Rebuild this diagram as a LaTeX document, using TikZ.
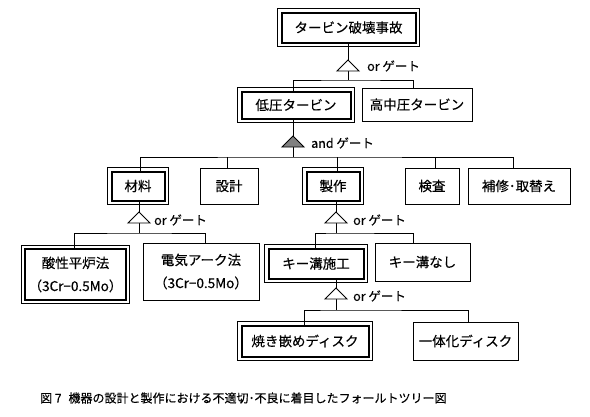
\documentclass[tikz,border=0pt]{standalone}
\usepackage{fontspec}
\setmainfont{Noto Sans CJK JP}[FakeBold=0.3]
\tikzset{
  plainbox/.style={draw, line width=0.9pt, inner sep=0pt, outer sep=0pt, align=center,
    font=\fontsize{13.5}{23}\selectfont},
  dblbox/.style={plainbox, line width=2pt},
  outframe/.style={line width=0.9pt},
  wire/.style={line width=0.9pt},
  orgate/.style={line width=0.9pt, fill=white},
  andgate/.style={line width=0.9pt, fill=black!50},
  glabel/.style={anchor=west, inner sep=0pt, font=\fontsize{12.5}{14}\selectfont},
  caption/.style={anchor=west, inner sep=0pt, font=\fontsize{12}{14}\selectfont}
}
\newcommand\dframe[1]{\draw[outframe] ([shift={(-3.6pt,3.6pt)}]#1.north west) rectangle ([shift={(3.6pt,-3.6pt)}]#1.south east);}
\newcommand\gatetri[2]{\draw[#2] (#1) -- ++(-11,11) -- ++(22,0) -- cycle;}
\begin{document}
\begin{tikzpicture}[x=1pt,y=-1pt]
\useasboundingbox (0,0) rectangle (590,416);

% nodes
\node[dblbox, minimum width=134, minimum height=30] (T) at (348.5,27.5) {タービン破壊事故};
\node[dblbox, minimum width=109, minimum height=27] (L) at (296,105) {低圧タービン};
\node[plainbox, minimum width=110, minimum height=33] (H) at (417,104.5) {高中圧タービン};
\node[dblbox, minimum width=53, minimum height=29] (M) at (138,186) {材料};
\node[plainbox, minimum width=58, minimum height=36] (D) at (229,186) {設計};
\node[dblbox, minimum width=53, minimum height=29] (S) at (333,186) {製作};
\node[plainbox, minimum width=54, minimum height=36] (C) at (432,186) {検査};
\node[plainbox, minimum width=102, minimum height=36] (R) at (519,186) {補修･取替え};
\node[dblbox, minimum width=101, minimum height=51] (A) at (75.5,274.5) {酸性平炉法\\（3Cr−0.5Mo）};
\node[plainbox, minimum width=116, minimum height=57] (E) at (201,271.5) {電気アーク法\\（3Cr−0.5Mo）};
\node[dblbox, minimum width=95, minimum height=30] (K) at (316,263.5) {キー溝施工};
\node[plainbox, minimum width=95, minimum height=38] (N) at (422.5,262) {キー溝なし};
\node[dblbox, minimum width=127, minimum height=31] (Y) at (305,341) {焼き嵌めディスク};
\node[plainbox, minimum width=105, minimum height=38] (I) at (465.5,341) {一体化ディスク};

\dframe{T}\dframe{L}\dframe{M}\dframe{S}\dframe{A}\dframe{K}\dframe{Y}

% gates: apex, base, bar
\coordinate (g1) at (348,60);  \coordinate (g1b) at (348,71);  \coordinate (b1) at (348,80);
\coordinate (g2) at (293,136); \coordinate (g2b) at (293,147); \coordinate (b2) at (293,157);
\coordinate (g3) at (139,212); \coordinate (g3b) at (139,223); \coordinate (b3) at (139,233);
\coordinate (g4) at (336,212); \coordinate (g4b) at (336,223); \coordinate (b4) at (336,233);
\coordinate (g5) at (336,288); \coordinate (g5b) at (336,299); \coordinate (b5) at (336,310);

% gate 1
\draw[wire] (T.south -| g1) -- (g1);
\draw[wire] (g1b) -- (b1);
\draw[wire] ([xshift=-3]L.north) |- (b1) -| ([xshift=-4]H.north);
\gatetri{g1}{orgate}
\node[glabel] (l1) at (367,66) {or ゲート};

% gate 2
\draw[wire] (L.south -| g2) -- (g2);
\draw[wire] (g2b) -- (b2);
\draw[wire] ([xshift=2]M.north) |- (b2) -| ([xshift=-6]R.north);
\draw[wire] ([xshift=-2]D.north) -- ([xshift=-2]D.north |- b2);
\draw[wire] ([xshift=4]S.north) -- ([xshift=4]S.north |- b2);
\draw[wire] ([xshift=3]C.north) -- ([xshift=3]C.north |- b2);
\gatetri{g2}{andgate}
\node[glabel] (l2) at (311,143) {and ゲート};

% gate 3
\draw[wire] (M.south -| g3) -- (g3);
\draw[wire] (g3b) -- (b3);
\draw[wire] ([xshift=-1.5]A.north) |- (b3) -| ([xshift=4]E.north);
\gatetri{g3}{orgate}
\node[glabel] (l3) at (154,220) {or ゲート};

% gate 4
\draw[wire] (S.south -| g4) -- (g4);
\draw[wire] (g4b) -- (b4);
\draw[wire] ([xshift=-1]K.north) |- (b4) -| ([xshift=-9.5]N.north);
\gatetri{g4}{orgate}
\node[glabel] (l4) at (353,220) {or ゲート};

% gate 5
\draw[wire] (K.south -| g5) -- (g5);
\draw[wire] (g5b) -- (b5);
\draw[wire] ([xshift=-1]Y.north) |- (b5) -| ([xshift=2.5]I.north);
\gatetri{g5}{orgate}
\node[glabel] (l5) at (353,296) {or ゲート};

% caption
\node[caption] (cap) at (40,398) {図 7\hspace{7pt}機器の設計と製作における不適切･不良に着目したフォールトツリー図};
\end{tikzpicture}
\end{document}
